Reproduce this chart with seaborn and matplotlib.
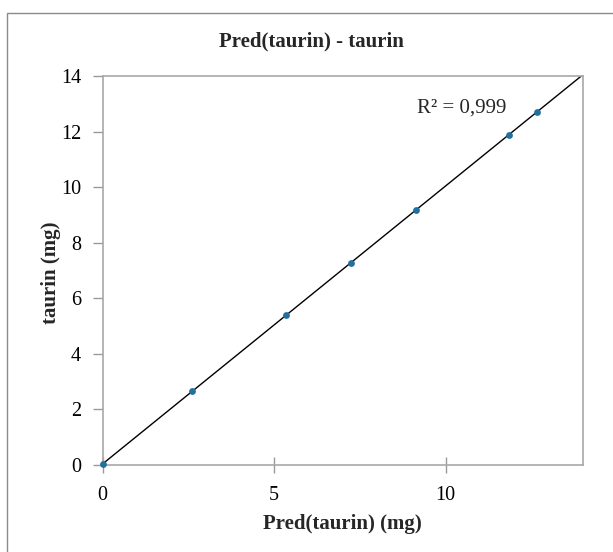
import numpy as np
import pandas as pd
import matplotlib
matplotlib.use("Agg")
import matplotlib.pyplot as plt
from matplotlib.patches import Rectangle
import seaborn as sns

pred_taurin = [0.0, 2.60, 5.34, 7.23, 9.13, 11.83, 12.65]
taurin = [0.02, 2.66, 5.40, 7.28, 9.17, 11.88, 12.69]
x_ticks = [0, 5, 10]
y_ticks = [0, 2, 4, 6, 8, 10, 12, 14]

df = pd.DataFrame({"pred": pred_taurin, "taurin": taurin})

sns.set_theme(style="white")
plt.rcParams["font.family"] = ["Liberation Serif", "DejaVu Serif"]

W, H = 613, 552
fig = plt.figure(figsize=(W / 100, H / 100), dpi=100)
ax = fig.add_axes([102.7 / W, 1 - 465 / H, (583 - 102.7) / W, (465 - 76) / H])

ax.set_xlim(0, 14)
ax.set_ylim(0, 14)

sns.regplot(data=df, x="pred", y="taurin", ax=ax, ci=None, truncate=False,
            scatter=False, line_kws=dict(color="black", lw=1.0))
sns.scatterplot(data=df, x="pred", y="taurin", ax=ax, color="#22709E",
                marker="o", s=24, edgecolor="#22709E", linewidth=0, zorder=3,
                clip_on=False)

ax.set_xlim(0, 14)
ax.set_ylim(0, 14)
ax.set_xticks(x_ticks)
ax.set_yticks(y_ticks)
ax.tick_params(axis="x", bottom=True, direction="inout", length=12, width=1,
               color="#999999", labelsize=14.5, pad=9)
ax.tick_params(axis="y", left=True, direction="out", length=7, width=1,
               color="#999999", labelsize=14.5, pad=8.5)
ax.tick_params(labelcolor="black")
for s in ax.spines.values():
    s.set_visible(True)
    s.set_color("#a8a8a8")
    s.set_linewidth(1.2)

ax.set_xlabel("Pred(taurin) (mg)", fontsize=15, fontweight="bold")
ax.xaxis.set_label_coords(0.5, (465 - 514) / 389)
ax.set_ylabel("taurin (mg)", fontsize=15, fontweight="bold")
ax.yaxis.set_label_coords((61 - 102.7) / 480.3, 0.5 - (273 - 270.5) / 389)

ax.text(9.17, 12.70, "R\u00b2 = 0,999", fontsize=15, ha="left", va="baseline")

fig.text(311 / W, 1 - 46.7 / H, "Pred(taurin) - taurin", fontsize=15,
         fontweight="bold", ha="center", va="baseline")

fig.add_artist(Rectangle((7 / W, -0.1), 2, (1 - 13 / H) + 0.1,
                         transform=fig.transFigure, fill=False,
                         edgecolor="#8a8a8a", lw=1.0))

fig.savefig("out.png", dpi=100)
